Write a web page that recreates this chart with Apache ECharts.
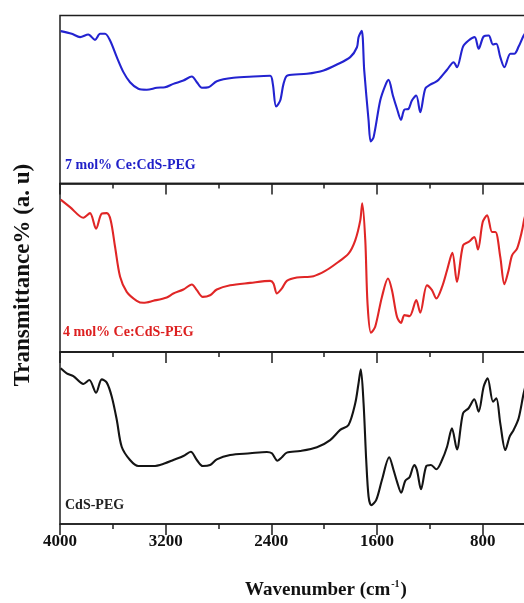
<!DOCTYPE html>
<html>
<head>
<meta charset="utf-8">
<script src="https://cdn.jsdelivr.net/npm/echarts@6/dist/echarts.min.js"></script>
<style>html,body{margin:0;padding:0;background:#fff;}#c{width:524px;height:603px;}</style>
</head>
<body>
<div id="c"></div>
<script>
// Wavenumber ticks (cm-1)
const xTicks = [4000, 3200, 2400, 1600, 800];

// 7 mol% Ce:CdS-PEG (blue, top panel)
const wnBlue = [3995,3911,3848,3786,3735,3697,3659,3621,3570,3520,3470,3407,3343,3267,3205,3142,3066,3002,2964,2926,2876,2813,2687,2536,2409,2389,2364,2333,2308,2278,2131,2005,1904,1803,1752,1740,1716,1697,1664,1648,1626,1576,1538,1513,1480,1449,1419,1394,1361,1336,1303,1273,1235,1197,1159,1134,1070,1020,995,949,907,861,831,793,755,722,697,667,636,591,561,528,490,455];
const tBlue = [90.7,89.1,87.1,88.7,85.5,89.1,89.1,85.1,75.2,66.3,60.3,56.4,55.8,57.0,57.3,59.3,61.3,63.7,60.3,57.0,57.3,60.9,62.9,63.7,64.1,59.3,45.8,49.4,59.3,64.3,65.3,67.3,70.8,75.2,81.1,87.1,90.9,67.3,37.5,25.0,27.6,49.4,58.3,61.7,52.4,44.5,37.9,43.9,44.5,49.4,52.4,42.4,56.4,58.8,60.3,61.7,67.7,72.2,69.2,81.5,85.1,87.1,80.2,87.5,88.1,82.7,83.2,75.2,69.2,77.2,77.2,81.5,88.1,92.3];

// 4 mol% Ce:CdS-PEG (red, middle panel)
const wnRed = [3995,3924,3823,3773,3727,3684,3646,3616,3583,3545,3495,3419,3369,3293,3192,3142,3066,3002,2964,2919,2864,2813,2712,2561,2409,2384,2358,2320,2283,2207,2081,1992,1904,1816,1765,1727,1712,1689,1672,1646,1614,1563,1517,1487,1449,1419,1392,1354,1303,1273,1222,1184,1151,1108,1070,1030,995,949,907,864,836,800,767,729,704,667,636,604,578,540,502,485,455];
const tRed = [90.4,86.0,79.7,82.4,73.2,82.1,82.4,78.1,62.3,44.6,35.7,30.4,29.2,30.4,32.4,34.7,37.1,40.1,36.7,32.7,33.7,37.1,39.6,41.0,42.2,40.7,34.7,37.7,42.2,44.2,45.0,48.1,52.8,58.4,66.3,78.1,88.3,66.3,28.8,11.4,15.0,32.7,43.6,36.7,20.9,17.3,21.9,21.3,30.8,23.3,39.6,36.7,31.8,38.6,48.5,58.8,41.6,63.3,65.3,68.2,60.8,77.1,81.1,71.2,71.2,56.4,40.2,48.5,57.4,61.4,72.2,79.1,87.0];

// CdS-PEG (black, bottom panel)
const wnBlack = [3995,3949,3899,3823,3778,3727,3684,3646,3608,3570,3533,3470,3407,3293,3205,3142,3066,3010,2964,2919,2864,2813,2712,2561,2434,2396,2354,2320,2283,2182,2055,1955,1879,1816,1765,1742,1723,1702,1682,1664,1644,1606,1563,1508,1475,1449,1417,1386,1354,1318,1298,1267,1227,1192,1151,1108,1070,1033,995,949,907,864,831,793,763,722,697,667,629,596,566,528,490,455];
const tBlack = [90.5,87.6,86.0,81.4,83.7,76.3,84.1,82.2,74.0,60.5,44.9,37.2,33.7,33.7,35.3,37.2,39.5,42.0,37.2,33.7,34.3,37.6,40.1,41.1,41.9,41.1,36.8,38.8,41.5,42.4,44.6,48.8,54.7,57.6,70.2,80.8,89.9,70.2,37.2,15.9,11.0,14.0,25.6,38.8,31.4,24.6,18.2,25.2,27.2,34.3,31.4,20.2,33.7,34.3,31.8,37.2,44.9,55.6,43.4,64.4,67.3,72.5,65.3,79.8,84.7,71.1,73.1,58.5,43.0,50.8,54.7,61.5,76.0,86.6];

const panelNames = ['7 mol% Ce:CdS-PEG', '4 mol% Ce:CdS-PEG', 'CdS-PEG'];
const lineColors = ['#2323d0', '#e02626', '#141414'];
const textColors = ['#2020c8', '#dd2020', '#222222'];

const serif = 'Liberation Serif, Times New Roman, serif';
const frame = '#1e1e1e';
const grids = [
  {left: 60, width: 528.4, top: 15.5, height: 168},
  {left: 60, width: 528.4, top: 183.5, height: 168.5},
  {left: 60, width: 528.4, top: 352, height: 172}
];
const pairs = (a, b) => a.map((w, i) => [w, b[i]]);
const seriesData = [pairs(wnBlue, tBlue), pairs(wnRed, tRed), pairs(wnBlack, tBlack)];

const option = {
  animation: false,
  backgroundColor: '#ffffff',
  grid: grids.map(g => Object.assign({show: true, borderColor: frame, borderWidth: 1.5, backgroundColor: 'transparent',
    containLabel: false, outerBoundsMode: 'none'}, g)),
  xAxis: grids.map((g, i) => ({
    type: 'value', gridIndex: i, min: 0, max: 4000, interval: 800, inverse: true,
    axisLine: {show: true, lineStyle: {color: frame, width: 1.5}},
    axisTick: {show: true, inside: false, length: 11, lineStyle: {color: frame, width: 1.5}},
    minorTick: {show: true, splitNumber: 2, length: 5, lineStyle: {color: frame, width: 1.5}},
    splitLine: {show: false}, minorSplitLine: {show: false},
    axisLabel: {show: i === 2, margin: 9, color: '#111', fontFamily: serif, fontWeight: 'bold', fontSize: 17,
      formatter: v => xTicks.indexOf(v) >= 0 ? String(v) : ''}
  })),
  yAxis: grids.map((g, i) => ({
    type: 'value', gridIndex: i, min: 0, max: 100,
    axisLine: {show: false}, axisTick: {show: false}, axisLabel: {show: false}, splitLine: {show: false}
  })),
  series: seriesData.map((d, i) => ({
    type: 'line', xAxisIndex: i, yAxisIndex: i, data: d, showSymbol: false, smooth: 0.3,
    lineStyle: {color: lineColors[i], width: 2.1}, itemStyle: {color: lineColors[i]}
  })),
  graphic: [
    {type: 'text', left: 65, top: 158, style: {text: panelNames[0], fill: textColors[0], font: 'bold 14px ' + serif}},
    {type: 'text', left: 63, top: 325, style: {text: panelNames[1], fill: textColors[1], font: 'bold 14px ' + serif}},
    {type: 'text', left: 65, top: 498, style: {text: panelNames[2], fill: textColors[2], font: 'bold 14px ' + serif}},
    {type: 'text', x: 23, y: 275, rotation: Math.PI / 2,
      style: {text: 'Transmittance% (a. u)', fill: '#111', font: 'bold 23px ' + serif, align: 'center', verticalAlign: 'middle'}},
    {type: 'text', x: 326, y: 590,
      style: {text: '{a|Wavenumber (cm}{s|-1}{a|)}', align: 'center', verticalAlign: 'middle',
        rich: {a: {fontFamily: serif, fontWeight: 'bold', fontSize: 19, fill: '#111', lineHeight: 22},
               s: {fontFamily: serif, fontWeight: 'bold', fontSize: 10, fill: '#111', verticalAlign: 'top', padding: [0, 1, 8, 1]}}}}
  ]
};

const chart = echarts.init(document.getElementById('c'), null, {renderer: 'canvas'});
chart.setOption(option);
</script>
</body>
</html>
